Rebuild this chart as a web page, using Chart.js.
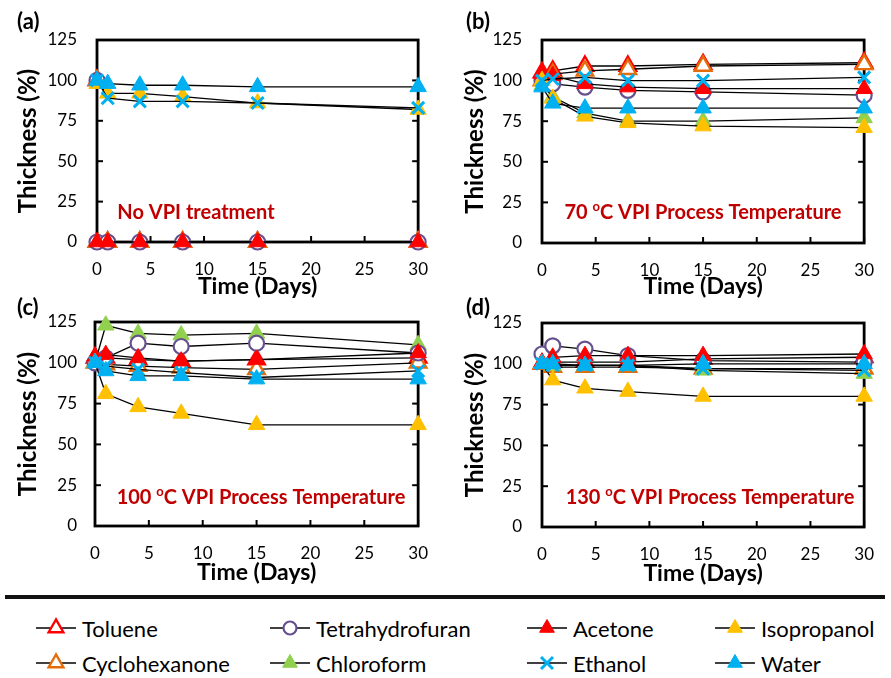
<!DOCTYPE html>
<html><head><meta charset="utf-8">
<script src="https://cdn.jsdelivr.net/npm/chart.js@4.4.1/dist/chart.umd.min.js"></script>
<style>
html,body{margin:0;padding:0;background:#fff}
body{width:891px;height:678px;position:relative;overflow:hidden;font-family:Lato,'Open Sans',sans-serif}
canvas{position:absolute}
#sep{position:absolute;left:5px;top:595px;width:880px;height:4px;background:#111}
.lg{position:absolute;height:30px;display:flex;align-items:center;font-size:22px;color:#000;white-space:nowrap}
.lg svg{margin-right:6px;flex:none}
</style></head><body>
<canvas id="ca" width="445" height="310" style="left:0;top:0"></canvas>
<canvas id="cb" width="446" height="310" style="left:445px;top:0"></canvas>
<canvas id="cc" width="445" height="310" style="left:0;top:290px"></canvas>
<canvas id="cd" width="446" height="310" style="left:445px;top:290px"></canvas>
<div id="sep"></div>
<div id="legend"></div>
<script>
// ---------- DATA ----------
const days = [0, 1, 4, 8, 15, 30];
const daysDrop = [0, 0, 1, 4, 8, 15, 30];
const solvents = ['Toluene','Tetrahydrofuran','Acetone','Isopropanol','Cyclohexanone','Chloroform','Ethanol','Water'];
const xTicks = [0, 5, 10, 15, 20, 25, 30];
const yTicks = [0, 25, 50, 75, 100, 125];

// (a) No VPI treatment
const a_toluene       = [100, 0, 0, 0, 0, 0, 0];
const a_thf           = [100, 0, 0, 0, 0, 0, 0];
const a_acetone       = [100, 0, 0, 0, 0, 0, 0];
const a_cyclohexanone = [100, 0, 0, 0, 0, 0, 0];
const a_chloroform    = [100, 0, 0, 0, 0, 0, 0];
const a_isopropanol   = [98, 92, 92, 90, 86, 82];
const a_ethanol       = [100, 89, 87, 87, 86, 83];
const a_water         = [100, 98, 97, 97, 96, 96];

// (b) 70 °C
const b_toluene       = [105, 106, 109, 109, 110, 111];
const b_thf           = [100, 98, 96, 94, 93, 91];
const b_acetone       = [104, 103, 98, 96, 95, 95];
const b_isopropanol   = [100, 89, 78, 74, 72, 71];
const b_cyclohexanone = [100, 104, 106, 107, 109, 110];
const b_chloroform    = [97, 90, 80, 75, 75, 77];
const b_ethanol       = [100, 101, 102, 100, 100, 102];
const b_water         = [96, 86, 83, 83, 83, 83];

// (c) 100 °C
const c_toluene       = [103, 103, 102, 101, 102, 103];
const c_thf           = [100, 103, 112, 110, 112, 106];
const c_acetone       = [104, 105, 103, 101, 102, 106];
const c_isopropanol   = [100, 81, 73, 69, 62, 62];
const c_cyclohexanone = [100, 99, 98, 97, 96, 100];
const c_chloroform    = [100, 123, 118, 117, 118, 111];
const c_ethanol       = [100, 98, 96, 94, 91, 95];
const c_water         = [100, 95, 92, 92, 90, 90];

// (d) 130 °C
const d_toluene       = [100, 101, 101, 101, 103, 104];
const d_thf           = [106, 111, 109, 105, 102, 101];
const d_acetone       = [101, 104, 105, 105, 105, 106];
const d_isopropanol   = [100, 90, 85, 83, 80, 80];
const d_cyclohexanone = [100, 98, 98, 98, 97, 97];
const d_chloroform    = [100, 99, 99, 99, 96, 94];
const d_ethanol       = [100, 99, 99, 99, 97, 96];
const d_water         = [100, 100, 99, 99, 100, 100];

// ---------- STYLES ----------
const styles = {
  'Toluene':        {color:'#ff0000', shape:'triangle', fill:false, r:9.5, bw:2.4},
  'Tetrahydrofuran':{color:'#66508e', shape:'circle',   fill:false, r:7.5, bw:2.2},
  'Acetone':        {color:'#ff0000', shape:'triangle', fill:true,  r:9.5, bw:1},
  'Isopropanol':    {color:'#ffc000', shape:'triangle', fill:true,  r:9.5, bw:1},
  'Cyclohexanone':  {color:'#e46c0a', shape:'triangle', fill:false, r:9.5, bw:2.4},
  'Chloroform':     {color:'#92d050', shape:'triangle', fill:true,  r:9.5, bw:1},
  'Ethanol':        {color:'#00b0f0', shape:'crossRot', fill:false, r:8.5, bw:3},
  'Water':          {color:'#00b0f0', shape:'triangle', fill:true,  r:9.5, bw:1}
};
// drawing sequence: first = bottom
const drawSeq = ['Toluene','Cyclohexanone','Chloroform','Tetrahydrofuran','Acetone','Isopropanol','Ethanol','Water'];

const panels = [
  {id:'ca', w:445, h:310, area:{l:97,t:40,r:432,b:242}, ytx:28, ypad:20, xtb:9.8, label:'(a)', lx:17, ly:22,
   note:[['No VPI treatment',false]], nx:196, ny:213,
   series:{'Toluene':[daysDrop,a_toluene],'Tetrahydrofuran':[daysDrop,a_thf],'Acetone':[daysDrop,a_acetone],
     'Isopropanol':[days,a_isopropanol],'Cyclohexanone':[daysDrop,a_cyclohexanone],'Chloroform':[daysDrop,a_chloroform],
     'Ethanol':[days,a_ethanol],'Water':[days,a_water]}},
  {id:'cb', w:446, h:310, area:{l:97,t:40,r:432,b:243}, ytx:30, ypad:20, xtb:9.8, label:'(b)', lx:21, ly:22,
   note:[['70 ',false],['o',true],['C VPI Process Temperature',false]], nx:258, ny:213,
   series:{'Toluene':[days,b_toluene],'Tetrahydrofuran':[days,b_thf],'Acetone':[days,b_acetone],
     'Isopropanol':[days,b_isopropanol],'Cyclohexanone':[days,b_cyclohexanone],'Chloroform':[days,b_chloroform],
     'Ethanol':[days,b_ethanol],'Water':[days,b_water]}},
  {id:'cc', w:445, h:310, area:{l:95,t:32,r:431,b:236}, ytx:28, ypad:18, xtb:13.8, label:'(c)', lx:17, ly:18,
   note:[['100 ',false],['o',true],['C VPI Process Temperature',false]], nx:261, ny:208,
   series:{'Toluene':[days,c_toluene],'Tetrahydrofuran':[days,c_thf],'Acetone':[days,c_acetone],
     'Isopropanol':[days,c_isopropanol],'Cyclohexanone':[days,c_cyclohexanone],'Chloroform':[days,c_chloroform],
     'Ethanol':[days,c_ethanol],'Water':[days,c_water]}},
  {id:'cd', w:446, h:310, area:{l:97,t:33,r:433,b:237}, ytx:30, ypad:20, xtb:12.8, label:'(d)', lx:21, ly:18,
   note:[['130 ',false],['o',true],['C VPI Process Temperature',false]], nx:265, ny:208,
   series:{'Toluene':[days,d_toluene],'Tetrahydrofuran':[days,d_thf],'Acetone':[days,d_acetone],
     'Isopropanol':[days,d_isopropanol],'Cyclohexanone':[days,d_cyclohexanone],'Chloroform':[days,d_chloroform],
     'Ethanol':[days,d_ethanol],'Water':[days,d_water]}}
];

Chart.defaults.color = '#000';
Chart.defaults.font.family = 'Lato';
Chart.defaults.animation = false;

const framePlugin = {
  id: 'frame',
  beforeDatasetsDraw(chart, args, o) {
    const {ctx, chartArea:a, scales:{x, y}} = chart;
    ctx.save();
    ctx.strokeStyle = '#000';
    ctx.lineWidth = 2;
    const tl = 6;
    x.ticks.forEach(t => {
      const px = x.getPixelForValue(t.value);
      ctx.beginPath(); ctx.moveTo(px, a.bottom); ctx.lineTo(px, a.bottom - tl); ctx.stroke();
    });
    y.ticks.forEach(t => {
      const py = y.getPixelForValue(t.value);
      ctx.beginPath(); ctx.moveTo(a.left, py); ctx.lineTo(a.left + tl, py); ctx.stroke();
      ctx.beginPath(); ctx.moveTo(a.right, py); ctx.lineTo(a.right - tl, py); ctx.stroke();
    });
    ctx.lineWidth = 2.8;
    ctx.strokeRect(a.left, a.top, a.right - a.left, a.bottom - a.top);
    ctx.restore();
  },
  afterDraw(chart, args, o) {
    const ctx = chart.ctx;
    ctx.save();
    ctx.fillStyle = '#000';
    ctx.font = 'bold 22px Lato';
    ctx.textBaseline = 'middle';
    ctx.textAlign = 'left';
    ctx.fillText(o.label, o.lx, o.ly);
    // annotation
    ctx.fillStyle = '#c00000';
    const big = 'bold 20px Lato', small = 'bold 13px Lato';
    let total = 0;
    o.note.forEach(([t, sup]) => { ctx.font = sup ? small : big; total += ctx.measureText(t).width; });
    let xx = o.nx - total / 2;
    o.note.forEach(([t, sup]) => {
      ctx.font = sup ? small : big;
      ctx.fillText(t, xx, sup ? o.ny - 6 : o.ny);
      xx += ctx.measureText(t).width;
    });
    ctx.restore();
  }
};

panels.forEach(p => {
  const datasets = solvents.map(name => {
    const s = styles[name];
    const [xs, ys] = p.series[name];
    return {
      label: name,
      data: xs.map((xv, i) => ({x: xv, y: ys[i]})),
      borderColor: '#000',
      borderWidth: 1.3,
      pointStyle: s.shape,
      pointRadius: s.r,
      pointHoverRadius: s.r,
      pointBorderColor: s.color,
      pointBackgroundColor: s.fill ? s.color : '#ffffff',
      pointBorderWidth: s.bw,
      tension: 0,
      clip: false,
      order: drawSeq.length - drawSeq.indexOf(name)
    };
  });
  new Chart(document.getElementById(p.id), {
    type: 'line',
    data: {datasets},
    plugins: [framePlugin],
    options: {
      responsive: false,
      animation: false,
      layout: {padding: {left: 0, top: p.area.t, right: p.w - p.area.r, bottom: 0}},
      plugins: {
        legend: {display: false},
        tooltip: {enabled: false},
        frame: {label: p.label, lx: p.lx, ly: p.ly, note: p.note, nx: p.nx, ny: p.ny}
      },
      scales: {
        x: {
          type: 'linear', min: 0, max: 30,
          afterBuildTicks: s => { s.ticks = xTicks.map(v => ({value: v})); },
          ticks: {padding: 17, font: {size: 17}, maxRotation: 0},
          grid: {display: false, drawTicks: false},
          border: {display: false},
          title: {display: true, text: 'Time (Days)', font: {size: 23, weight: 'bold'}, padding: {top: 0, bottom: p.xtb}},
          afterFit: s => { s.height = p.h - p.area.b; }
        },
        y: {
          type: 'linear', min: 0, max: 125,
          afterBuildTicks: s => { s.ticks = yTicks.map(v => ({value: v})); },
          ticks: {padding: p.ypad, font: {size: 17}},
          grid: {display: false, drawTicks: false},
          border: {display: false},
          title: {display: true, text: 'Thickness (%)', font: {size: 24, weight: 'bold'}, padding: {top: p.ytx - 14.4, bottom: 0}},
          afterFit: s => { s.width = p.area.l; }
        }
      }
    }
  });
});

// ---------- LEGEND (HTML) ----------
const legendPos = {
  'Toluene':[36,628], 'Tetrahydrofuran':[270,628], 'Acetone':[527,628], 'Isopropanol':[715,628],
  'Cyclohexanone':[36,663], 'Chloroform':[270,663], 'Ethanol':[527,663], 'Water':[715,663]
};
function markerSvg(s) {
  const cx = 20, cy = 12, r = 8.5;
  let m = '';
  if (s.shape === 'triangle') {
    const pts = [[cx, cy - r], [cx - r * 0.866, cy + r / 2], [cx + r * 0.866, cy + r / 2]].map(p => p.join(',')).join(' ');
    m = `<polygon points="${pts}" fill="${s.fill ? s.color : '#fff'}" stroke="${s.color}" stroke-width="${s.fill ? 1 : 2.4}"/>`;
  } else if (s.shape === 'circle') {
    m = `<circle cx="${cx}" cy="${cy}" r="6.5" fill="#fff" stroke="${s.color}" stroke-width="2.2"/>`;
  } else {
    const d = 6;
    m = `<path d="M${cx-d},${cy-d}L${cx+d},${cy+d}M${cx+d},${cy-d}L${cx-d},${cy+d}" stroke="${s.color}" stroke-width="3"/>`;
  }
  return `<svg width="40" height="24" viewBox="0 0 40 24"><line x1="0" y1="${cy}" x2="40" y2="${cy}" stroke="#000" stroke-width="1.5"/>${m}</svg>`;
}
const lg = document.getElementById('legend');
solvents.forEach(name => {
  const [lx, ly] = legendPos[name];
  const d = document.createElement('div');
  d.className = 'lg';
  d.style.left = lx + 'px';
  d.style.top = (ly - 15) + 'px';
  d.innerHTML = markerSvg(styles[name]) + '<span>' + name + '</span>';
  lg.appendChild(d);
});
</script>
</body></html>
